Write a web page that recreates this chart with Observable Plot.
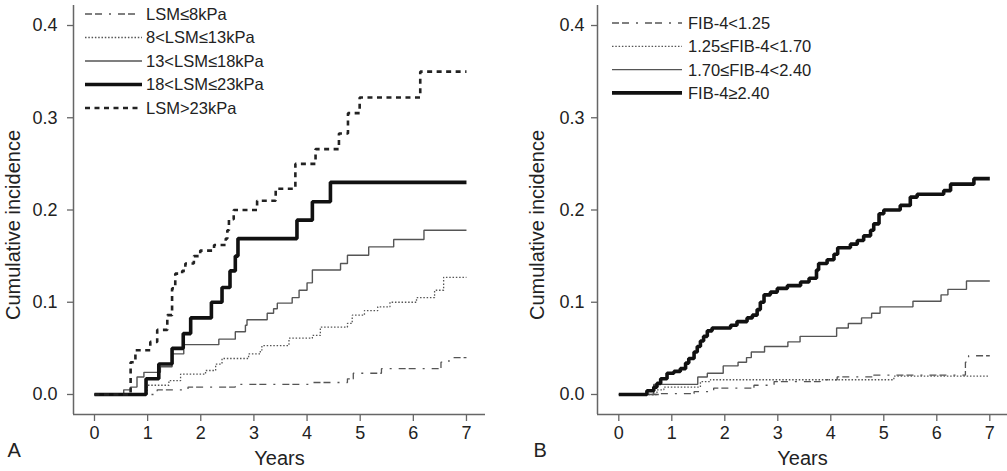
<!DOCTYPE html>
<html>
<head>
<meta charset="utf-8">
<script src="https://cdn.jsdelivr.net/npm/d3@7"></script>
<script src="https://cdn.jsdelivr.net/npm/@observablehq/plot@0.6"></script>
<style>
  body { margin: 0; background: #fff; }
  #wrap { position: relative; width: 1007px; height: 471px; overflow: hidden; font-family: "Liberation Sans", Arial, sans-serif; }
  .panel { position: absolute; top: 0; }
  .legend text { font-family: "Liberation Sans", Arial, sans-serif; font-size: 16.5px; fill: #222; }
</style>
</head>
<body>
<div id="wrap"></div>
<script>
// ---- axis ticks ----
const yearTicks = [0, 1, 2, 3, 4, 5, 6, 7];
const incidenceTicks = [0, 0.1, 0.2, 0.3, 0.4];

// ---- Panel A: liver stiffness (LSM) groups ----
const lsmGroups = ["LSM\u22648kPa", "8<LSM\u226413kPa", "13<LSM\u226418kPa", "18<LSM\u226423kPa", "LSM>23kPa"];

const lsm8Years = [0, 1.18, 1.76, 2.65, 4.06, 4.76, 4.87, 5.40, 6.52, 6.67, 7.0];
const lsm8Inc   = [0, 0.005, 0.008, 0.011, 0.013, 0.017, 0.023, 0.028, 0.035, 0.040, 0.040];

const lsm13Years = [0, 0.99, 1.40, 1.62, 2.09, 2.28, 2.40, 2.90, 3.12, 3.15, 3.66, 4.10, 4.25, 4.76, 4.85, 5.08, 5.33, 5.56, 6.06, 6.40, 6.57, 7.0];
const lsm13Inc   = [0, 0.010, 0.015, 0.022, 0.026, 0.033, 0.039, 0.044, 0.048, 0.053, 0.061, 0.064, 0.073, 0.077, 0.086, 0.091, 0.095, 0.100, 0.105, 0.113, 0.127, 0.127];

const lsm18Years = [0, 0.55, 0.68, 0.80, 0.93, 1.24, 1.46, 1.68, 2.34, 2.65, 2.84, 2.87, 3.25, 3.37, 3.44, 3.72, 3.85, 4.00, 4.10, 4.63, 4.76, 5.16, 5.63, 6.20, 7.0];
const lsm18Inc   = [0, 0.005, 0.008, 0.019, 0.024, 0.030, 0.044, 0.054, 0.060, 0.068, 0.075, 0.081, 0.088, 0.093, 0.099, 0.105, 0.113, 0.121, 0.135, 0.142, 0.151, 0.160, 0.168, 0.178, 0.178];

const lsm23Years = [0, 0.97, 1.21, 1.46, 1.67, 1.81, 2.20, 2.40, 2.55, 2.65, 2.70, 3.81, 4.10, 4.44, 7.0];
const lsm23Inc   = [0, 0.017, 0.033, 0.050, 0.066, 0.083, 0.100, 0.116, 0.134, 0.150, 0.169, 0.189, 0.209, 0.230, 0.230];

const lsmHighYears = [0, 0.68, 0.77, 1.05, 1.18, 1.37, 1.46, 1.52, 1.65, 1.71, 1.87, 1.99, 2.25, 2.47, 2.50, 2.53, 2.62, 3.06, 3.41, 3.78, 4.16, 4.60, 4.77, 4.99, 6.13, 7.0];
const lsmHighInc   = [0, 0.035, 0.048, 0.057, 0.070, 0.086, 0.115, 0.131, 0.134, 0.142, 0.150, 0.156, 0.162, 0.169, 0.178, 0.190, 0.200, 0.210, 0.223, 0.250, 0.266, 0.283, 0.305, 0.322, 0.350, 0.350];

// ---- Panel B: FIB-4 groups ----
const fibGroups = ["FIB-4<1.25", "1.25\u2264FIB-4<1.70", "1.70\u2264FIB-4<2.40", "FIB-4\u22652.40"];

const fibLowYears = [0, 0.79, 1.42, 1.79, 2.55, 2.93, 3.80, 4.12, 4.81, 6.54, 6.60, 7.0];
const fibLowInc   = [0, 0.001, 0.003, 0.007, 0.010, 0.014, 0.016, 0.019, 0.021, 0.035, 0.042, 0.042];

const fibMidYears = [0, 0.72, 0.85, 1.54, 1.73, 5.19, 7.0];
const fibMidInc   = [0, 0.005, 0.008, 0.014, 0.016, 0.020, 0.020];

const fibUpperYears = [0, 0.66, 1.49, 1.67, 1.97, 2.25, 2.41, 2.50, 2.75, 3.19, 3.42, 4.11, 4.33, 4.58, 4.77, 4.93, 5.55, 6.08, 6.21, 6.56, 7.0];
const fibUpperInc   = [0, 0.011, 0.019, 0.023, 0.031, 0.035, 0.040, 0.046, 0.052, 0.057, 0.063, 0.072, 0.077, 0.083, 0.088, 0.095, 0.101, 0.108, 0.114, 0.123, 0.123];

const fibHighYears = [0, 0.53, 0.66, 0.72, 0.79, 0.91, 1.04, 1.16, 1.26, 1.32, 1.42, 1.48, 1.54, 1.60, 1.67, 1.76, 2.11, 2.23, 2.42, 2.52, 2.61, 2.67, 2.74, 2.86, 2.99, 3.18, 3.43, 3.59, 3.73, 3.77, 3.93, 4.06, 4.13, 4.37, 4.50, 4.62, 4.75, 4.81, 4.91, 5.00, 5.31, 5.50, 5.63, 6.13, 6.26, 6.70, 7.0];
const fibHighInc   = [0, 0.004, 0.008, 0.012, 0.017, 0.023, 0.025, 0.028, 0.034, 0.039, 0.046, 0.052, 0.058, 0.063, 0.069, 0.072, 0.075, 0.079, 0.083, 0.086, 0.092, 0.100, 0.108, 0.111, 0.115, 0.118, 0.122, 0.126, 0.135, 0.142, 0.146, 0.152, 0.159, 0.163, 0.167, 0.172, 0.178, 0.185, 0.196, 0.200, 0.205, 0.214, 0.217, 0.221, 0.228, 0.234, 0.234];

// ---- line styles ----
const styles = {
  dashdot: {stroke: "#555", strokeWidth: 1.3, strokeDasharray: "7,3,7,7,2,7"},
  dotted:  {stroke: "#555", strokeWidth: 1.3, strokeDasharray: "1.5,1.8"},
  thin:    {stroke: "#555", strokeWidth: 1.4, strokeDasharray: null},
  thick:   {stroke: "#111", strokeWidth: 3.6, strokeDasharray: null},
  dashed:  {stroke: "#222", strokeWidth: 2.6, strokeDasharray: "5,4.5"}
};

const toRows = (years, inc) => years.map((t, i) => ({t, v: inc[i]}));

const panelA = [
  {name: lsmGroups[0], rows: toRows(lsm8Years, lsm8Inc), style: styles.dashdot},
  {name: lsmGroups[1], rows: toRows(lsm13Years, lsm13Inc), style: styles.dotted},
  {name: lsmGroups[2], rows: toRows(lsm18Years, lsm18Inc), style: styles.thin},
  {name: lsmGroups[3], rows: toRows(lsm23Years, lsm23Inc), style: styles.thick},
  {name: lsmGroups[4], rows: toRows(lsmHighYears, lsmHighInc), style: styles.dashed}
];
const panelB = [
  {name: fibGroups[0], rows: toRows(fibLowYears, fibLowInc), style: styles.dashdot},
  {name: fibGroups[1], rows: toRows(fibMidYears, fibMidInc), style: styles.dotted},
  {name: fibGroups[2], rows: toRows(fibUpperYears, fibUpperInc), style: styles.thin},
  {name: fibGroups[3], rows: toRows(fibHighYears, fibHighInc), style: styles.thick}
];

const FONT = "Liberation Sans, Arial, Helvetica, sans-serif";
const AXIS = "#666";
const yDomain = [-0.0217, 0.4217];

function stepLine(s) {
  const o = {x: "t", y: "v", curve: "step-after", stroke: s.style.stroke, strokeWidth: s.style.strokeWidth,
             strokeLinecap: "butt", strokeLinejoin: "miter"};
  if (s.style.strokeDasharray) o.strokeDasharray = s.style.strokeDasharray;
  return Plot.line(s.rows, o);
}

function drawPanel(cfg) {
  const chart = Plot.plot({
    width: cfg.width,
    height: 471,
    marginTop: 5,
    marginBottom: 57,
    marginLeft: cfg.marginLeft,
    marginRight: cfg.marginRight,
    x: {domain: cfg.xDomain},
    y: {domain: yDomain},
    style: {fontFamily: FONT, fontSize: "18px", color: "#222", background: "transparent", overflow: "visible"},
    marks: [
      Plot.ruleX([cfg.xDomain[0]], {stroke: AXIS, strokeWidth: 1.5}),
      Plot.ruleY([yDomain[0]], {stroke: AXIS, strokeWidth: 1.5}),
      Plot.axisX({ticks: yearTicks, tickSize: 7, tickPadding: 5, tickFormat: d => String(d), label: null,
                  stroke: AXIS, strokeWidth: 1.3, fill: "#222", fontSize: 18}),
      Plot.axisY({ticks: incidenceTicks, tickSize: 6, tickPadding: cfg.yPad, tickFormat: d3.format(".1f"), label: null,
                  stroke: AXIS, strokeWidth: 1.3, fill: "#222", fontSize: 18}),
      Plot.text(["Cumulative incidence"], {frameAnchor: "left", textAnchor: "middle", rotate: -90, dx: -60, dy: 15,
                  fontSize: 20, fill: "#222", letterSpacing: "0.9px"}),
      Plot.text(["Years"], {frameAnchor: "bottom", dy: 50, fontSize: 20, fill: "#222"}),
      Plot.text([cfg.tag], {frameAnchor: "bottom-left", textAnchor: "start", dx: cfg.tagDx, dy: 42,
                  fontSize: 20, fill: "#222"}),
      ...cfg.series.map(stepLine)
    ]
  });
  const holder = document.createElement("div");
  holder.className = "panel";
  holder.style.left = cfg.left + "px";
  holder.style.width = cfg.width + "px";
  holder.style.height = "471px";
  holder.appendChild(chart);

  // legend inside the plotting area
  const leg = d3.create("svg")
    .attr("class", "legend")
    .attr("width", cfg.width).attr("height", 160)
    .style("position", "absolute").style("left", "0px").style("top", "0px")
    .style("overflow", "visible");
  const g = leg.selectAll("g").data(cfg.series).join("g")
    .attr("transform", (d, i) => `translate(0,${cfg.legend.top + i * cfg.legend.step})`);
  g.append("line")
    .attr("x1", cfg.legend.x1).attr("x2", cfg.legend.x2)
    .attr("stroke", d => d.style.stroke)
    .attr("stroke-width", d => d.style.strokeWidth)
    .attr("stroke-dasharray", d => d.style.strokeDasharray);
  g.append("text")
    .attr("x", cfg.legend.tx).attr("dy", "0.36em")
    .text(d => d.name);
  holder.appendChild(leg.node());
  document.getElementById("wrap").appendChild(holder);
}

drawPanel({
  left: 0, width: 500, marginLeft: 73, marginRight: 15,
  xDomain: [-0.395, 7.358], yPad: 10, tag: "A", tagDx: -66,
  series: panelA,
  legend: {top: 14, step: 23.5, x1: 85, x2: 142, tx: 146}
});
drawPanel({
  left: 500, width: 507, marginLeft: 97, marginRight: 0,
  xDomain: [-0.402, 7.334], yPad: 7, tag: "B", tagDx: -64,
  series: panelB,
  legend: {top: 23, step: 23.3, x1: 112, x2: 182, tx: 188}
});
</script>
</body>
</html>
